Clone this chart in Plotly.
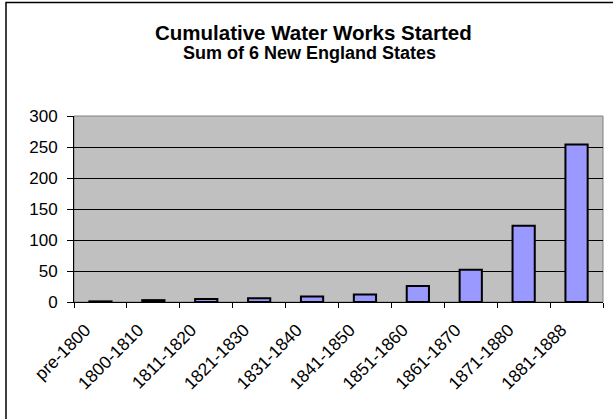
import plotly.graph_objects as go

categories = ["pre-1800", "1800-1810", "1811-1820", "1821-1830", "1831-1840",
              "1841-1850", "1851-1860", "1861-1870", "1871-1880", "1881-1888"]
values = [1, 3, 5, 6, 9, 12, 26, 52, 123, 254]
y_ticks = [0, 50, 100, 150, 200, 250, 300]

title_text = "Cumulative Water Works Started"
subtitle_text = "Sum of 6 New England States"

W, H = 613, 419
L, R, T, B = 74, 10, 116, 117
pw, ph = W - L - R, H - T - B

def px_to_paper_x(px):
    return (px - L) / pw

def px_to_paper_y(py):
    return (H - B - py) / ph

font = "Arial, Liberation Sans, sans-serif"

fig = go.Figure(go.Bar(
    x=categories, y=values,
    marker=dict(color="#9999FF", line=dict(color="black", width=2)),
    width=0.42,
))

fig.update_layout(
    width=W, height=H,
    margin=dict(l=L, r=R, t=T, b=B, autoexpand=False),
    paper_bgcolor="white", plot_bgcolor="#C0C0C0",
    showlegend=False,
    font=dict(family=font, size=17, color="black"),
    xaxis=dict(
        showgrid=False, showline=True, linecolor="black", linewidth=1,
        ticks="outside", ticklen=5, tickcolor="black", tickson="boundaries",
        tickangle=-45, tickfont=dict(size=17.5),
        ticklabelshift=-15, ticklabelstandoff=10,
    ),
    yaxis=dict(
        range=[0, 300], tickvals=y_ticks, showgrid=True, gridcolor="black", gridwidth=1,
        showline=True, linecolor="black", linewidth=1, zeroline=False,
        ticks="outside", ticklen=6, tickcolor="black", tickfont=dict(size=17),
        ticklabelstandoff=6,
    ),
    shapes=[
        dict(type="rect", xref="paper", yref="paper", x0=0, x1=1, y0=0, y1=1,
             line=dict(color="#808080", width=1), layer="below"),
        dict(type="rect", xref="paper", yref="paper",
             x0=px_to_paper_x(6), x1=px_to_paper_x(640),
             y0=px_to_paper_y(440), y1=px_to_paper_y(2.5),
             line=dict(color="black", width=1.5)),
    ],
    annotations=[
        dict(text="<b>" + title_text + "</b>", xref="paper", yref="paper",
             x=px_to_paper_x(313), y=px_to_paper_y(33), showarrow=False,
             xanchor="center", yanchor="middle", font=dict(size=20.5, family=font)),
        dict(text="<b>" + subtitle_text + "</b>", xref="paper", yref="paper",
             x=px_to_paper_x(309), y=px_to_paper_y(53), showarrow=False,
             xanchor="center", yanchor="middle", font=dict(size=18, family=font)),
    ],
)

fig.write_html("out.html", post_script="document.body.style.margin='0';",
               config={"displayModeBar": False})
